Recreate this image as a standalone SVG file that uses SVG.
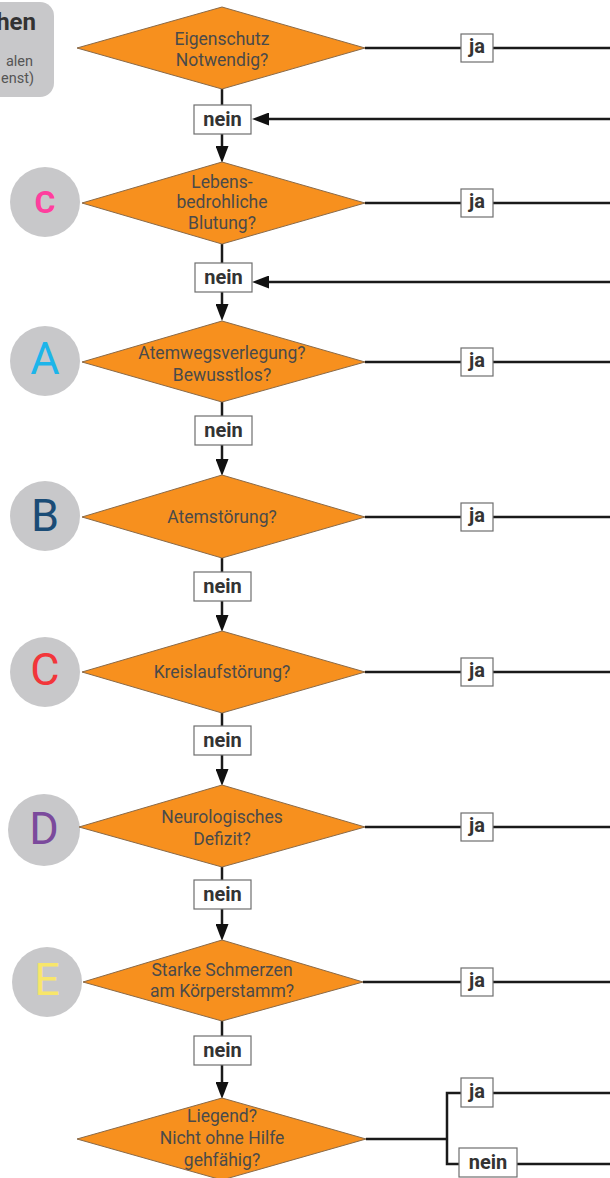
<svg xmlns="http://www.w3.org/2000/svg" width="610" height="1178" viewBox="0 0 610 1178">
  <style>
    .dia { fill: #F7901E; stroke: #8a6a48; stroke-width: 1; }
    .dt { font-family: Roboto, "DejaVu Sans", sans-serif; font-size: 17.5px; fill: #4a4a4a; text-anchor: middle; }
    .lbl { fill: #ffffff; stroke: #6e6e6e; stroke-width: 1.2; }
    .lt { font-family: Roboto, "DejaVu Sans", sans-serif; font-weight: 700; font-size: 20px; fill: #333333; text-anchor: middle; }
    .ln { fill: none; stroke: #1a1a1a; stroke-width: 2.5; }
    .badge { fill: #C8C8CA; }
    .bt { font-family: Roboto, "DejaVu Sans", sans-serif; font-size: 45px; text-anchor: middle; }
    .hdr { font-family: Roboto, "DejaVu Sans", sans-serif; fill: #555555; text-anchor: end; }
  </style>
  <defs>
    <marker id="arr" viewBox="0 0 17 13" refX="8" refY="6.5" markerWidth="17" markerHeight="13" markerUnits="userSpaceOnUse" orient="auto">
      <path d="M0,0 L17,6.5 L0,13 z" fill="#111111"/>
    </marker>
  </defs>

  <rect width="610" height="1178" fill="#ffffff"/>

  <!-- header card, partly outside the page -->
  <g id="header">
    <rect x="-30" y="2" width="84" height="95" rx="14" fill="#C8C8CA"/>
    <text class="hdr" x="36" y="30" font-size="24" font-weight="700" style="fill:#333333">hen</text>
    <text class="hdr" x="33" y="66" font-size="14.5">alen</text>
    <text class="hdr" x="34" y="83" font-size="14.5">enst)</text>
  </g>

  <!-- connectors -->
  <g id="connectors">
    <!-- main spine -->
    <path class="ln" d="M222,89 V105"/>
    <path class="ln" d="M222,134 V154" marker-end="url(#arr)"/>
    <path class="ln" d="M222,244 V263"/>
    <path class="ln" d="M222,292 V312" marker-end="url(#arr)"/>
    <path class="ln" d="M222,402 V416"/>
    <path class="ln" d="M222,445 V467" marker-end="url(#arr)"/>
    <path class="ln" d="M222,558 V572"/>
    <path class="ln" d="M222,601 V623" marker-end="url(#arr)"/>
    <path class="ln" d="M222,713 V726"/>
    <path class="ln" d="M222,755 V777" marker-end="url(#arr)"/>
    <path class="ln" d="M222,867 V880"/>
    <path class="ln" d="M222,909 V932" marker-end="url(#arr)"/>
    <path class="ln" d="M222,1021 V1036"/>
    <path class="ln" d="M222,1065 V1090" marker-end="url(#arr)"/>

    <!-- returns into the spine -->
    <path class="ln" d="M610,119 H261" marker-end="url(#arr)"/>
    <path class="ln" d="M610,282 H261" marker-end="url(#arr)"/>

    <!-- "ja" exits -->
    <path class="ln" d="M365,48 H461 M493,48 H610"/>
    <path class="ln" d="M365,203 H461 M493,203 H610"/>
    <path class="ln" d="M365,362 H461 M493,362 H610"/>
    <path class="ln" d="M365,517 H461 M493,517 H610"/>
    <path class="ln" d="M365,672 H461 M493,672 H610"/>
    <path class="ln" d="M365,827 H461 M493,827 H610"/>
    <path class="ln" d="M363,982 H461 M493,982 H610"/>

    <!-- final split -->
    <path class="ln" d="M366,1139 H447"/>
    <path class="ln" d="M461,1093 H447 V1164 H459"/>
    <path class="ln" d="M493,1093 H610"/>
    <path class="ln" d="M517,1164 H610"/>
  </g>

  <!-- decisions -->
  <g id="d-eigenschutz">
    <polygon class="dia" points="222,7 365,48 222,89 77,48"/>
    <text class="dt" x="222" y="45">Eigenschutz</text>
    <text class="dt" x="222" y="66">Notwendig?</text>
  </g>

  <g id="d-blutung">
    <circle class="badge" cx="45" cy="202" r="35"/>
    <text class="bt" x="45" y="213" font-weight="700" fill="#FF3E9E" style="font-size:32px">C</text>
    <polygon class="dia" points="222,162 365,203 222,244 82,203"/>
    <text class="dt" x="222" y="188">Lebens-</text>
    <text class="dt" x="222" y="208">bedrohliche</text>
    <text class="dt" x="222" y="229">Blutung?</text>
  </g>

  <g id="d-atemweg">
    <circle class="badge" cx="45" cy="361" r="35"/>
    <text class="bt" x="45" y="374" fill="#1DB5EA">A</text>
    <polygon class="dia" points="222,321 365,362 222,402 82,362"/>
    <text class="dt" x="222" y="359">Atemwegsverlegung?</text>
    <text class="dt" x="222" y="381">Bewusstlos?</text>
  </g>

  <g id="d-atmung">
    <circle class="badge" cx="45" cy="516" r="35"/>
    <text class="bt" x="45" y="531" fill="#1B4C76">B</text>
    <polygon class="dia" points="222,475 365,517 222,558 82,517"/>
    <text class="dt" x="222" y="523">Atemstörung?</text>
  </g>

  <g id="d-kreislauf">
    <circle class="badge" cx="45" cy="672" r="35"/>
    <text class="bt" x="45" y="685" fill="#F2363A">C</text>
    <polygon class="dia" points="222,631 365,672 222,713 82,672"/>
    <text class="dt" x="222" y="678">Kreislaufstörung?</text>
  </g>

  <g id="d-neuro">
    <circle class="badge" cx="44" cy="830" r="36"/>
    <text class="bt" x="44" y="844" fill="#7B4A9C">D</text>
    <polygon class="dia" points="222,785 365,827 222,867 79,827"/>
    <text class="dt" x="222" y="823">Neurologisches</text>
    <text class="dt" x="222" y="845">Defizit?</text>
  </g>

  <g id="d-schmerz">
    <circle class="badge" cx="47" cy="982" r="35"/>
    <text class="bt" x="47" y="995" fill="#F8E66A">E</text>
    <polygon class="dia" points="222,940 363,982 222,1021 83,982"/>
    <text class="dt" x="222" y="976">Starke Schmerzen</text>
    <text class="dt" x="222" y="997">am Körperstamm?</text>
  </g>

  <g id="d-gehfaehig">
    <polygon class="dia" points="222,1098 366,1139 222,1180 77,1139"/>
    <text class="dt" x="222" y="1122">Liegend?</text>
    <text class="dt" x="222" y="1144">Nicht ohne Hilfe</text>
    <text class="dt" x="222" y="1166">gehfähig?</text>
  </g>

  <!-- answer labels -->
  <g id="l-nein-1"><rect class="lbl" x="194" y="105" width="57" height="29"/><text class="lt" x="222.5" y="126">nein</text></g>
  <g id="l-nein-2"><rect class="lbl" x="195" y="263" width="57" height="29"/><text class="lt" x="223.5" y="284">nein</text></g>
  <g id="l-nein-3"><rect class="lbl" x="195" y="416" width="57" height="29"/><text class="lt" x="223.5" y="437">nein</text></g>
  <g id="l-nein-4"><rect class="lbl" x="194" y="572" width="57" height="29"/><text class="lt" x="222.5" y="593">nein</text></g>
  <g id="l-nein-5"><rect class="lbl" x="194" y="726" width="57" height="29"/><text class="lt" x="222.5" y="747">nein</text></g>
  <g id="l-nein-6"><rect class="lbl" x="194" y="880" width="57" height="29"/><text class="lt" x="222.5" y="901">nein</text></g>
  <g id="l-nein-7"><rect class="lbl" x="194" y="1036" width="57" height="29"/><text class="lt" x="222.5" y="1057">nein</text></g>

  <g id="l-ja-1"><rect class="lbl" x="461" y="34" width="32" height="28"/><text class="lt" x="477" y="53">ja</text></g>
  <g id="l-ja-2"><rect class="lbl" x="461" y="189" width="32" height="28"/><text class="lt" x="477" y="208">ja</text></g>
  <g id="l-ja-3"><rect class="lbl" x="461" y="348" width="32" height="28"/><text class="lt" x="477" y="367">ja</text></g>
  <g id="l-ja-4"><rect class="lbl" x="461" y="503" width="32" height="28"/><text class="lt" x="477" y="522">ja</text></g>
  <g id="l-ja-5"><rect class="lbl" x="461" y="658" width="32" height="28"/><text class="lt" x="477" y="677">ja</text></g>
  <g id="l-ja-6"><rect class="lbl" x="461" y="813" width="32" height="28"/><text class="lt" x="477" y="832">ja</text></g>
  <g id="l-ja-7"><rect class="lbl" x="461" y="968" width="32" height="28"/><text class="lt" x="477" y="987">ja</text></g>
  <g id="l-ja-8"><rect class="lbl" x="461" y="1078" width="32" height="29"/><text class="lt" x="477" y="1098">ja</text></g>
  <g id="l-nein-8"><rect class="lbl" x="459" y="1148" width="58" height="29"/><text class="lt" x="488" y="1169">nein</text></g>
</svg>
